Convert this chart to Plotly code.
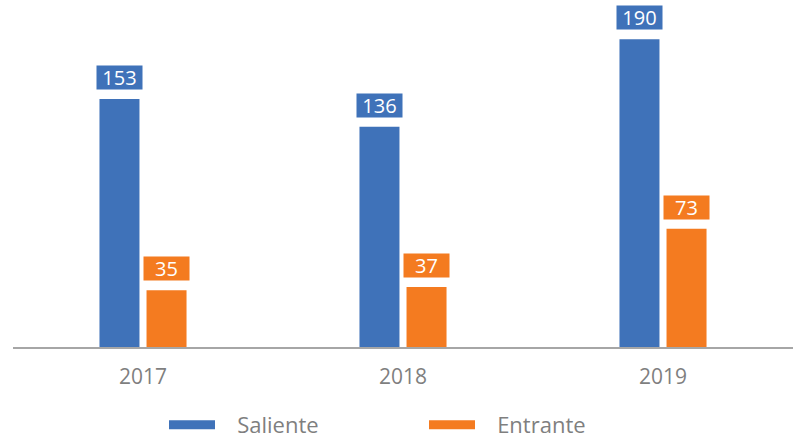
import plotly.graph_objects as go

years = ["2017", "2018", "2019"]
saliente = [153, 136, 190]
entrante = [35, 37, 73]

BLUE = "#3f72b9"
ORANGE = "#f47b20"
GRAY = "#7f7f7f"
FONT = "Open Sans"
PAD = "\u00a0\u00a0\u00a0"

fig = go.Figure()
fig.add_trace(go.Bar(x=years, y=saliente, name="Saliente", marker_color=BLUE,
                     marker_line_width=0, showlegend=False))
fig.add_trace(go.Bar(x=years, y=entrante, name="Entrante", marker_color=ORANGE,
                     marker_line_width=0, showlegend=False))

# legend entries drawn as wide line swatches
for name, col in [("Saliente", BLUE), ("Entrante", ORANGE)]:
    fig.add_trace(go.Scatter(x=[years[0]], y=[None], mode="lines", name=PAD + name,
                             line=dict(color=col, width=9)))

# value labels in coloured boxes above each bar (x given as category index)
for vals, col, shift in [(saliente, BLUE, -23.5), (entrante, ORANGE, 23.5)]:
    for i, v in enumerate(vals):
        fig.add_annotation(x=i, y=v, text=str(v), showarrow=False,
                           xshift=shift, yanchor="bottom", yshift=9,
                           width=45, height=23, borderpad=0,
                           bgcolor=col,
                           font=dict(family=FONT, size=20, color="white"))

fig.update_layout(
    width=793, height=443,
    margin=dict(l=13, r=0, t=10, b=96, autoexpand=False),
    plot_bgcolor="white", paper_bgcolor="white",
    barmode="group", bargap=0.638, bargroupgap=0.15,
    font=dict(family=FONT, color=GRAY),
    legend=dict(orientation="h", xref="container", yref="container",
                x=164 / 793, xanchor="left", y=18 / 443, yanchor="middle",
                font=dict(family=FONT, size=22, color=GRAY),
                itemwidth=46, entrywidth=199, entrywidthmode="pixels"),
    xaxis=dict(type="category", categoryorder="array", categoryarray=years,
               range=[-0.5, 2.5],
               showline=True, linecolor="#a6a6a6", linewidth=1.5,
               ticks="outside", ticklen=10, tickcolor="rgba(0,0,0,0)",
               tickfont=dict(family=FONT, size=21, color=GRAY)),
    yaxis=dict(range=[0, 208], visible=False),
)

fig.write_html("out.html")
